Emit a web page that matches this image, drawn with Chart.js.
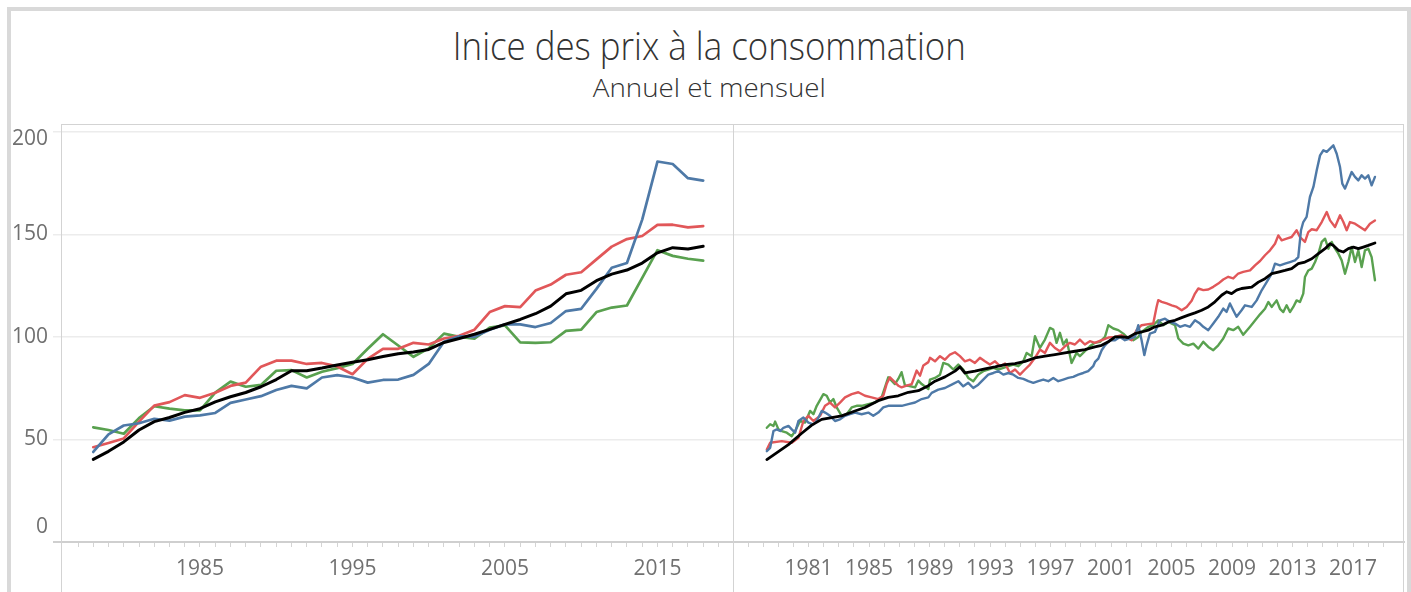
<!DOCTYPE html>
<html>
<head>
<meta charset="utf-8">
<script src="https://cdn.jsdelivr.net/npm/chart.js@4.4.1/dist/chart.umd.min.js"></script>
<style>
  html, body { margin: 0; padding: 0; background: #fff; }
  body { width: 1411px; height: 592px; position: relative; overflow: hidden; font-family: 'Open Sans', sans-serif; }
  #frame { position: absolute; left: 7px; top: 7px; width: 1396px; height: 600px; border: 4px solid #d9d9d9; border-bottom: none; }
  .head { position: absolute; left: 0; width: 1418px; text-align: center; color: #333; font-weight: 300; line-height: 1; white-space: nowrap; }
  .head span { display: inline-block; transform-origin: 50% 50%; }
  #title { top: 25px; font-size: 39px; }
  #subtitle { top: 74px; font-size: 26px; }
  canvas { position: absolute; top: 124px; }
  #annual { left: 0; }
  #monthly { left: 734px; }
</style>
</head>
<body>
<div id="frame"></div>
<div class="head" id="title"><span>Inice des prix à la consommation</span></div>
<div class="head" id="subtitle"><span>Annuel et mensuel</span></div>
<canvas id="annual" width="734" height="468"></canvas>
<canvas id="monthly" width="677" height="468"></canvas>
<script>
// ---- annual panel ----
const years = [1978, 1979, 1980, 1981, 1982, 1983, 1984, 1985, 1986, 1987, 1988, 1989, 1990,
  1991, 1992, 1993, 1994, 1995, 1996, 1997, 1998, 1999, 2000, 2001, 2002, 2003, 2004, 2005,
  2006, 2007, 2008, 2009, 2010, 2011, 2012, 2013, 2014, 2015, 2016, 2017, 2018];

const blueAnnual = [43.9, 52.5, 56.8, 57.9, 60.1, 59.2, 61.1, 61.7, 62.9, 67.8, 69.5, 71.1, 74.1,
  76.1, 74.9, 80.2, 81.4, 80.2, 77.7, 79.0, 79.2, 81.5, 86.8, 97.6, 100.3, 100.0, 103.5, 106.1,
  106.1, 104.8, 106.8, 112.6, 113.7, 123.4, 133.7, 136.0, 157.2, 185.5, 184.3, 177.4, 176.2];
const redAnnual = [46.2, 48.3, 50.5, 58.7, 66.5, 68.2, 71.6, 70.3, 72.8, 76.1, 77.7, 85.5, 88.4,
  88.4, 86.8, 87.3, 85.6, 81.8, 89.3, 94.2, 94.2, 97.1, 96.3, 99.2, 100.5, 103.5, 112.1, 115.0,
  114.5, 122.6, 125.5, 130.3, 131.5, 137.8, 144.0, 147.7, 149.2, 154.6, 154.7, 153.4, 154.0];
const greenAnnual = [55.9, 54.6, 52.8, 60.4, 66.2, 65.0, 64.2, 64.2, 72.8, 78.2, 75.7, 76.6, 83.5,
  83.8, 80.2, 83.0, 84.8, 86.8, 94.2, 101.3, 95.8, 90.3, 94.4, 101.6, 100.0, 99.2, 104.5, 105.6,
  97.3, 97.1, 97.4, 102.9, 103.5, 112.1, 114.3, 115.3, 128.8, 142.3, 139.5, 138.1, 137.2];
const blackAnnual = [40.3, 44.2, 48.8, 54.6, 58.7, 60.7, 63.2, 65.0, 68.3, 70.8, 72.9, 75.7, 79.2,
  83.5, 83.5, 84.8, 86.3, 87.6, 88.9, 90.4, 91.8, 92.6, 93.9, 97.3, 99.2, 101.3, 103.7, 106.1,
  108.5, 111.3, 115.0, 121.0, 122.7, 127.4, 130.6, 132.6, 136.0, 141.0, 143.5, 142.9, 144.2];

const annualTickYears = [1977, 1978, 1979, 1980, 1981, 1982, 1983, 1984, 1985, 1986, 1987,
  1988, 1989, 1990, 1991, 1992, 1993, 1994, 1995, 1996, 1997, 1998, 1999, 2000, 2001, 2002, 2003,
  2004, 2005, 2006, 2007, 2008, 2009, 2010, 2011, 2012, 2013, 2014, 2015, 2016, 2017, 2018, 2019];
const annualLabelYears = [1985, 1995, 2005, 2015];

// ---- monthly panel: [date, value] ----
const blueMonthly = [[1978.24,44.3],[1978.46,45.9],[1978.68,54.1],[1978.9,54.9],[1979.12,54.1],[1979.34,55.7],
  [1979.67,56.6],[1979.89,54.9],[1980.11,53.3],[1980.33,59],[1980.66,60.7],[1980.99,58.2],[1981.32,57.4],
  [1981.54,59],[1981.87,63.9],[1982.09,63.1],[1982.42,61.5],[1982.75,59],[1983.08,59.8],[1983.41,61.5],
  [1983.74,62.3],[1984.07,63.1],[1984.51,62.3],[1984.95,63.1],[1985.28,61.5],[1985.61,63.1],[1985.94,65.6],
  [1986.27,66.4],[1986.72,66.4],[1987.16,66.4],[1987.6,67.2],[1988.04,68],[1988.48,69.7],[1988.92,70.5],
  [1989.14,72.7],[1989.58,74.3],[1990.02,75.1],[1990.46,76.7],[1990.9,78.4],[1991.23,75.9],[1991.56,77.6],
  [1991.89,75.1],[1992.22,76.7],[1992.55,79.2],[1992.88,81.6],[1993.22,82.4],[1993.55,83.3],[1993.88,81.6],
  [1994.21,82.4],[1994.54,81.6],[1994.87,80],[1995.2,79.5],[1995.53,78.4],[1995.86,77.6],[1996.19,78.4],
  [1996.52,79.2],[1996.85,78.4],[1997.18,80],[1997.51,78.4],[1997.84,79.2],[1998.17,80],[1998.5,80.5],
  [1998.83,81.6],[1999.16,82.4],[1999.49,83.3],[1999.82,85.7],[1999.94,87.8],[2000.16,89.4],[2000.38,93.5],
  [2000.6,95.9],[2000.93,98.4],[2001.26,98.4],[2001.59,100],[2001.92,98.4],[2002.25,99.2],[2002.58,100],
  [2002.8,105.7],[2003.02,98.4],[2003.2,91.1],[2003.35,95.9],[2003.57,101.6],[2003.9,102.4],[2004.23,108.1],
  [2004.57,108.9],[2004.9,107.3],[2005.23,106.5],[2005.56,104.9],[2005.89,105.7],[2006.22,104.9],
  [2006.55,108.1],[2006.88,106.5],[2007.1,104.9],[2007.43,103.3],[2007.76,106.5],[2008.09,109.8],
  [2008.42,113.8],[2008.64,112.2],[2008.86,116.3],[2009.08,113],[2009.3,109.8],[2009.63,113],[2009.86,115.4],
  [2010.3,114.6],[2010.63,117.8],[2010.96,122.7],[2011.29,126.7],[2011.62,130.8],[2011.84,135.7],
  [2012.17,134.9],[2012.5,135.7],[2012.83,136.5],[2013.16,137.3],[2013.38,138.9],[2013.56,152],[2013.71,156],
  [2013.93,158.5],[2014.15,168.2],[2014.38,173.1],[2014.6,181.2],[2014.82,188.5],[2015.04,191],[2015.26,190.2],
  [2015.48,191.8],[2015.7,193.4],[2015.92,189.3],[2016.14,182.8],[2016.29,174.7],[2016.47,172.3],
  [2016.69,176.3],[2016.91,180.4],[2017.13,178],[2017.35,176.3],[2017.57,178.8],[2017.79,177.2],
  [2018.01,178.8],[2018.23,173.9],[2018.45,178]];

const redMonthly = [[1978.24,45.1],[1978.46,48.4],[1979.23,49.2],[1979.89,48.4],[1980.33,50.8],[1980.66,59],
  [1980.99,61.5],[1981.32,59],[1981.76,61.5],[1982.09,66.4],[1982.42,68],[1982.75,65.6],[1983.08,68],
  [1983.41,70.5],[1983.85,72.1],[1984.29,73],[1984.73,71.3],[1985.17,70.5],[1985.61,69.7],[1985.94,71.3],
  [1986.16,77],[1986.38,80.3],[1986.6,78.7],[1986.93,76.2],[1987.15,75.4],[1987.48,76.2],[1987.82,77],
  [1988.15,83.6],[1988.37,81.1],[1988.59,86.1],[1988.92,87.7],[1989.03,89.8],[1989.36,88.1],[1989.69,90.6],
  [1990.02,88.9],[1990.35,91.4],[1990.68,92.5],[1991.01,90.6],[1991.34,88.1],[1991.67,88.9],[1992.0,87.3],
  [1992.33,89.8],[1992.66,88.1],[1992.99,86.5],[1993.33,88.1],[1993.66,85.7],[1993.99,87],[1994.32,82.4],
  [1994.65,84.1],[1994.98,81.6],[1995.31,84.1],[1995.64,86.5],[1995.97,89.8],[1996.3,93.8],[1996.63,92.2],
  [1996.96,97.1],[1997.29,94.6],[1997.62,93],[1997.95,95.4],[1998.28,97.1],[1998.61,96.3],[1998.94,98.7],
  [1999.27,96.3],[1999.6,97.9],[1999.93,97.1],[2000.38,98.4],[2000.82,99.7],[2001.26,100],[2001.7,100.8],
  [2002.14,99.2],[2002.36,98.4],[2002.69,103.3],[2003.02,105.7],[2003.46,106.2],[2003.79,106.5],
  [2004.01,114.6],[2004.12,117.9],[2004.35,117.1],[2004.68,116.3],[2005.01,115.4],[2005.34,114.6],
  [2005.67,113],[2006.0,114.6],[2006.33,117.6],[2006.55,121.1],[2006.77,123.6],[2007.1,122.8],
  [2007.43,123.1],[2007.76,124.4],[2008.09,126],[2008.42,128],[2008.75,129.3],[2009.08,128.5],
  [2009.41,130.9],[2009.74,131.7],[2010.19,132.4],[2010.52,134.9],[2010.85,137],[2011.18,139.8],
  [2011.51,142.2],[2011.84,145.4],[2012.06,149.5],[2012.28,147.1],[2012.61,147.9],[2012.94,148.7],
  [2013.27,152],[2013.49,148.7],[2013.82,146.3],[2014.04,151.1],[2014.27,152.5],[2014.6,152],[2014.93,156],
  [2015.26,160.9],[2015.48,156.8],[2015.81,153.6],[2016.14,159.3],[2016.36,156],[2016.58,152],[2016.8,156],
  [2017.13,155.2],[2017.46,153.6],[2017.79,152],[2018.12,155.2],[2018.45,156.8]];

const greenMonthly = [[1978.24,55.7],[1978.46,57.4],[1978.68,56.6],[1978.79,58.7],[1979.01,54.9],[1979.23,54.1],
  [1979.56,53.3],[1979.89,51.6],[1980.11,54.1],[1980.44,59],[1980.77,58.2],[1981.1,63.9],[1981.32,62.3],
  [1981.54,66.4],[1981.98,72.1],[1982.2,71.3],[1982.42,68],[1982.64,69.7],[1982.86,65.6],[1983.19,61.5],
  [1983.52,62.3],[1983.85,65.6],[1984.18,66.4],[1984.51,66.4],[1984.95,67.2],[1985.39,68],[1985.83,70.5],
  [1986.05,75.4],[1986.27,80.3],[1986.49,78.7],[1986.71,77],[1986.93,79.5],[1987.15,82.8],[1987.38,76.2],
  [1987.6,76.2],[1988.04,75.4],[1988.26,78.7],[1988.48,77],[1988.92,74.6],[1989.03,79.2],[1989.36,80],
  [1989.69,81.6],[1989.91,87.3],[1990.24,86.5],[1990.57,84.1],[1990.9,86.5],[1991.23,84.1],[1991.56,80],
  [1991.89,78.4],[1992.22,81.6],[1992.55,83.3],[1992.88,84.1],[1993.22,84.9],[1993.55,84.1],[1993.88,84.9],
  [1994.21,85.7],[1994.54,86.5],[1994.87,85.7],[1995.2,88.1],[1995.42,92.2],[1995.75,90.6],[1995.97,100.3],
  [1996.3,94.6],[1996.63,98.7],[1996.96,104.4],[1997.18,103.6],[1997.4,97.1],[1997.62,102],[1997.84,96.3],
  [1998.06,98.7],[1998.39,87.3],[1998.72,92.2],[1998.94,90.6],[1999.27,93],[1999.6,95.4],[1999.93,97.1],
  [2000.27,97.6],[2000.6,100],[2000.82,105.7],[2001.15,104.1],[2001.48,103.3],[2001.81,101.6],[2002.14,99.2],
  [2002.47,98.4],[2002.8,100],[2003.02,102.4],[2003.46,104.9],[2003.79,105.7],[2004.12,108.1],[2004.46,105.7],
  [2004.79,107.3],[2005.23,105.7],[2005.45,99.2],[2005.78,96.7],[2006.11,95.9],[2006.44,96.7],[2006.77,94.3],
  [2007.1,97.6],[2007.43,95.1],[2007.76,93.5],[2008.09,95.9],[2008.42,99.2],[2008.75,104.1],[2009.08,103.3],
  [2009.41,104.9],[2009.74,101],[2010.19,105],[2010.52,108],[2010.85,111],[2011.18,113.7],[2011.4,117],
  [2011.62,114.6],[2011.95,117.8],[2012.17,113.7],[2012.39,112.1],[2012.61,115.4],[2012.83,112.1],
  [2013.05,114.6],[2013.27,117.8],[2013.49,117],[2013.71,121.1],[2013.82,129.2],[2014.04,132.4],
  [2014.27,133.3],[2014.49,136.5],[2014.71,140.6],[2014.93,146.3],[2015.15,147.9],[2015.37,143],
  [2015.59,146.3],[2015.81,143],[2016.03,140.6],[2016.25,137.3],[2016.47,130.8],[2016.69,136.5],
  [2016.91,143.8],[2017.13,136.5],[2017.35,142.2],[2017.57,134.1],[2017.79,142.2],[2018.01,143],
  [2018.23,138.9],[2018.45,127.6]];

const blackMonthly = [[1978.24,40.2],[1978.79,43],[1979.67,47.5],[1980.55,53],[1981.21,57],[1981.87,59.8],
  [1982.53,60.7],[1983.19,61.5],[1984.07,63.9],[1984.73,65.6],[1985.61,68.9],[1986.27,70.5],[1986.93,71.3],
  [1987.6,73],[1988.26,73.8],[1988.92,76.2],[1989.36,78.4],[1990.02,80.5],[1990.68,83.3],[1991.01,85.4],
  [1991.34,82.4],[1992.0,83.3],[1992.66,84.4],[1993.33,85.4],[1993.99,86.5],[1994.65,87],[1995.31,88.1],
  [1995.97,89.8],[1996.63,90.6],[1997.29,91.4],[1997.95,92.2],[1998.61,93],[1999.27,93.8],[1999.93,95.1],
  [2000.38,95.9],[2000.82,97.6],[2001.26,100],[2001.7,100],[2002.14,99.7],[2002.58,101.6],[2003.02,102.4],
  [2003.46,103.3],[2003.9,104.9],[2004.35,105.7],[2004.79,107.3],[2005.23,108.1],[2005.67,109.4],
  [2006.11,110.6],[2006.55,111.7],[2006.99,113],[2007.43,114.6],[2007.87,117.1],[2008.09,118.7],
  [2008.31,120.3],[2008.64,122],[2008.97,121.1],[2009.3,122.8],[2009.63,123.6],[2010.3,124.3],
  [2010.74,126.7],[2011.18,128.4],[2011.62,130.8],[2012.06,131.6],[2012.5,132.4],[2012.94,133.3],
  [2013.38,135.7],[2013.82,136.5],[2014.27,138.1],[2014.71,140.6],[2015.15,143],[2015.48,145.4],
  [2015.7,144.6],[2016.03,142.2],[2016.36,141.4],[2016.69,143],[2017.02,143.8],[2017.35,143],
  [2017.68,143.8],[2018.01,144.6],[2018.45,145.8]];

const monthlyTickYears = [1977, 1978, 1979, 1980, 1981, 1982, 1983, 1984, 1985, 1986, 1987, 1988, 1989,
  1990, 1991, 1992, 1993, 1994, 1995, 1996, 1997, 1998, 1999, 2000, 2001, 2002, 2003, 2004, 2005, 2006,
  2007, 2008, 2009, 2010, 2011, 2012, 2013, 2014, 2015, 2016, 2017, 2018, 2019];
const monthlyLabelYears = [1981, 1985, 1989, 1993, 1997, 2001, 2005, 2009, 2013, 2017];

const yTicks = [0, 50, 100, 150, 200];

const COLORS = { blue: '#4e79a7', red: '#e15759', green: '#59a14f', black: '#000000' };
const LABEL_GRAY = '#707070';
const FONT = 'Open Sans';

// squeeze the title into the width used by the original
function fitHead(id, width) {
    let span = document.querySelector('#' + id + ' span');
    let w = span.getBoundingClientRect().width;
    span.style.transform = 'scaleX(' + (width / w) + ')';
}
fitHead('title', 513);
fitHead('subtitle', 233);

// thin frame around each panel
const panelFrame = {
    id: 'panelFrame',
    beforeDatasetsDraw(chart, args, opts) {
        const { ctx, chartArea: a, height } = chart;
        ctx.save();
        ctx.strokeStyle = opts.color;
        ctx.lineWidth = 1;
        ctx.beginPath();
        ctx.moveTo(a.left, a.top + 0.5);
        ctx.lineTo(a.right, a.top + 0.5);
        opts.sides.forEach(side => {
            let x = side === 'left' ? a.left - 0.5 : a.right - 0.5;
            ctx.moveTo(x, a.top);
            ctx.lineTo(x, height);
        });
        ctx.stroke();
        ctx.restore();
    }
};

// Tableau keeps the first and last value labels inside the axis
function yTickLabel(v) {
    if (v === 200) return ['', '200'];
    if (v === 0) return ['0', ''];
    return String(v);
}
function yTickFont(ctx) {
    let v = ctx.tick ? ctx.tick.value : null;
    let lh = v === 200 ? '14px' : (v === 0 ? '30px' : 1.2);
    return { family: FONT, size: 21, lineHeight: lh };
}

function lineSet(label, points, color, width) {
    return {
        label: label,
        data: points,
        borderColor: color,
        borderWidth: width,
        pointRadius: 0,
        tension: 0,
        borderJoinStyle: 'round',
        borderCapStyle: 'round',
        fill: false
    };
}

function xScale(min, max, tickYears, labelYears) {
    return {
        type: 'linear',
        min: min,
        max: max,
        afterBuildTicks: axis => { axis.ticks = tickYears.map(v => ({ value: v })); },
        afterFit: axis => { axis.height = 50; axis.paddingLeft = 0; axis.paddingRight = 0; },
        ticks: {
            autoSkip: false,
            maxRotation: 0,
            padding: 9,
            color: LABEL_GRAY,
            font: { family: FONT, size: 21 },
            callback: v => labelYears.includes(v) ? String(v) : ''
        },
        grid: { drawOnChartArea: false, drawTicks: true, tickLength: 5, color: '#d4d4d4' },
        border: { display: true, color: '#cfcfcf', width: 2 }
    };
}

function yScale(width, showLabels) {
    return {
        min: 0,
        max: 203.8,
        afterBuildTicks: axis => { axis.ticks = yTicks.map(v => ({ value: v })); },
        afterFit: axis => { axis.width = width; axis.paddingTop = 0; axis.paddingBottom = 0; },
        ticks: showLabels
            ? { padding: 5, color: LABEL_GRAY, font: yTickFont, callback: yTickLabel }
            : { display: false },
        grid: {
            color: c => (c.tick && c.tick.value === 0) ? '#cfcfcf' : '#ececec',
            lineWidth: c => (c.tick && c.tick.value === 0) ? 2 : 1.5,
            tickLength: showLabels ? 9 : 0,
            drawTicks: showLabels
        },
        border: { display: false }
    };
}

const baseOptions = {
    responsive: false,
    animation: false,
    events: [],
    plugins: { legend: { display: false }, tooltip: { enabled: false } }
};

new Chart(document.getElementById('annual'), {
    type: 'line',
    data: {
        datasets: [
            lineSet('Noir', years.map((y, i) => ({ x: y, y: blackAnnual[i] })), COLORS.black, 3),
            lineSet('Bleu', years.map((y, i) => ({ x: y, y: blueAnnual[i] })), COLORS.blue, 2.7),
            lineSet('Rouge', years.map((y, i) => ({ x: y, y: redAnnual[i] })), COLORS.red, 2.7),
            lineSet('Vert', years.map((y, i) => ({ x: y, y: greenAnnual[i] })), COLORS.green, 2.7)
        ]
    },
    options: Object.assign({}, baseOptions, {
        layout: { padding: 0 },
        scales: {
            x: xScale(1975.95, 2020.02, annualTickYears, annualLabelYears),
            y: yScale(62, true)
        },
        plugins: Object.assign({}, baseOptions.plugins, { panelFrame: { color: '#d3d3d3', sides: ['left', 'right'] } })
    }),
    plugins: [panelFrame]
});

const toPoints = arr => arr.map(p => ({ x: p[0], y: p[1] }));

new Chart(document.getElementById('monthly'), {
    type: 'line',
    data: {
        datasets: [
            lineSet('Noir', toPoints(blackMonthly), COLORS.black, 2.8),
            lineSet('Bleu', toPoints(blueMonthly), COLORS.blue, 2.4),
            lineSet('Rouge', toPoints(redMonthly), COLORS.red, 2.4),
            lineSet('Vert', toPoints(greenMonthly), COLORS.green, 2.4)
        ]
    },
    options: Object.assign({}, baseOptions, {
        layout: { padding: { left: 0, right: 7, top: 0, bottom: 0 } },
        scales: {
            x: xScale(1976.07, 2020.37, monthlyTickYears, monthlyLabelYears),
            y: yScale(0, false)
        },
        plugins: Object.assign({}, baseOptions.plugins, { panelFrame: { color: '#d3d3d3', sides: ['right'] } })
    }),
    plugins: [panelFrame]
});
</script>
</body>
</html>
